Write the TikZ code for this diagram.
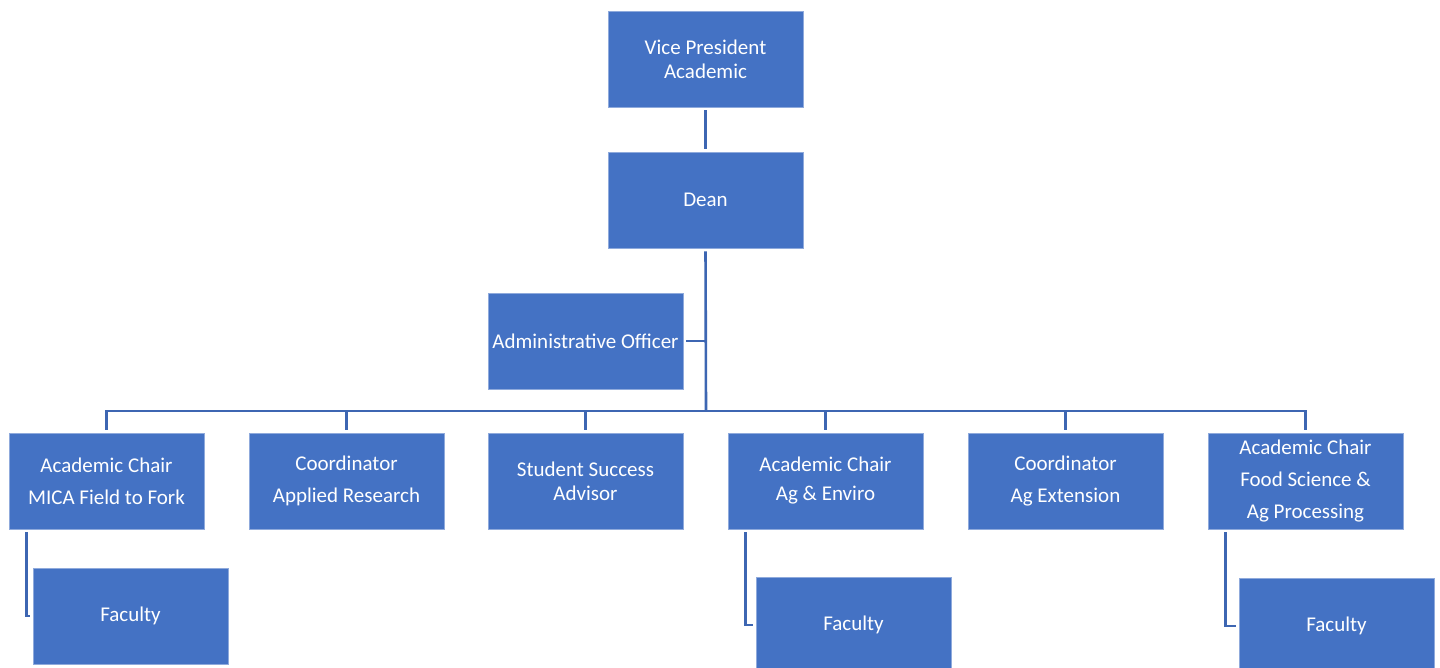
\documentclass[tikz,border=0pt]{standalone}
\usepackage{fontspec}
\setmainfont{Carlito}
\definecolor{boxfill}{HTML}{4472C4}
\definecolor{boxedge}{HTML}{8FAADC}
\definecolor{linecol}{HTML}{3D66B2}
\begin{document}
\begin{tikzpicture}[x=0.5pt,y=-0.5pt,
  orgbox/.style={rectangle, fill=boxfill, draw=boxedge, line width=0.4pt,
    minimum width=97.5pt, minimum height=48pt, inner sep=0pt, text=white,
    align=center, font=\fontsize{10.5}{12}\selectfont},
  loose/.style={font=\fontsize{10.5}{16}\selectfont},
  conn/.style={draw=linecol, line width=1.3pt},
  gap/.style={shorten <=1.5pt},
  gaps/.style={shorten <=1.5pt, shorten >=1.5pt}]
\useasboundingbox (0,0) rectangle (1440,668);
\clip (0,0) rectangle (1440,668);
\fill[white] (0,0) rectangle (1440,668);

\node[orgbox] (vp) at (705.5,59) {Vice President\\Academic};
\node[orgbox] (dean) at (705.5,200) {Dean};
\node[orgbox] (admin) at (585.5,341) {Administrative Officer};

\node[orgbox, loose] (c1) at (106.5,481) {Academic Chair\\MICA Field to Fork};
\node[orgbox, loose] (c2) at (346.5,481) {Coordinator\\Applied Research};
\node[orgbox] (c3) at (585.5,481) {Student Success\\Advisor};
\node[orgbox, font=\fontsize{10.5}{14.5}\selectfont] (c4) at (825.5,481) {Academic Chair\\Ag \& Enviro};
\node[orgbox, loose] (c5) at (1065.5,481) {Coordinator\\Ag Extension};
\node[orgbox, loose] (c6) at (1305.5,481) {Academic Chair\\Food Science \&\\Ag Processing};

\node[orgbox] (f1) at (130.5,616) {Faculty};
\node[orgbox] (f2) at (853.5,625) {Faculty};
\node[orgbox] (f3) at (1336.5,626) {Faculty};

\coordinate (bus) at (706,411);

\draw[conn, gaps] (vp) -- (dean);
\draw[conn, gap] (dean.south) -- (bus);
\draw[conn, gap] (admin.east) -- (admin.east -| bus);
\draw[conn, line cap=rect] (c1.north |- bus) -- (c6.north |- bus);
\foreach \n in {c1,c2,c3,c4,c5,c6}
  \draw[conn, gap] (\n.north) -- (\n.north |- bus);

\draw[conn, gaps] ([xshift=9pt]c1.south west) |- (f1.west);
\draw[conn, gaps] ([xshift=9pt]c4.south west) |- (f2.west);
\draw[conn, gaps] ([xshift=9pt]c6.south west) |- (f3.west);
\end{tikzpicture}
\end{document}
